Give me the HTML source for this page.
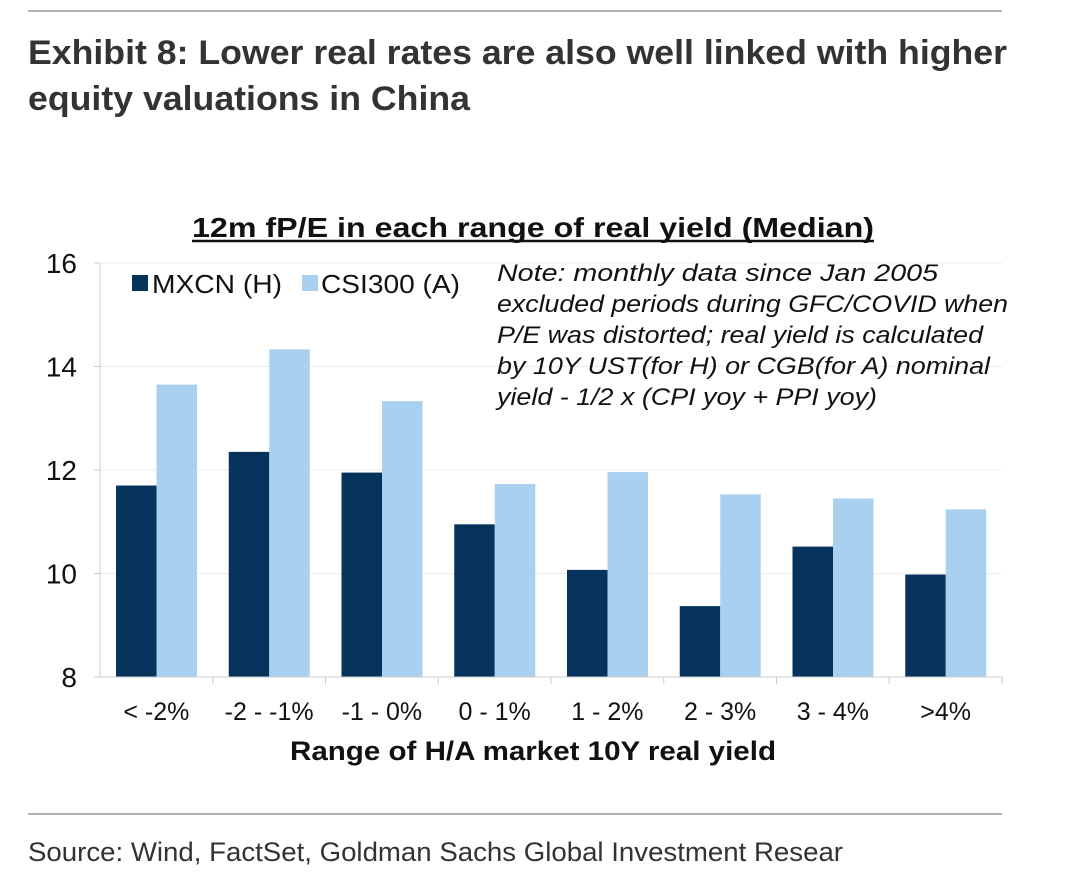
<!DOCTYPE html>
<html><head><meta charset="utf-8"><style>
body{margin:0;background:#fff;width:1080px;height:875px;overflow:hidden;font-family:"Liberation Sans",sans-serif;}
</style></head><body>
<svg width="1080" height="875" xmlns="http://www.w3.org/2000/svg">
<line x1="28" y1="11" x2="1002" y2="11" stroke="#999" stroke-width="1.5"/>
<text x="28" y="64" font-size="34" font-weight="bold" fill="#333" textLength="979" lengthAdjust="spacingAndGlyphs">Exhibit 8: Lower real rates are also well linked with higher</text>
<text x="28" y="110" font-size="34" font-weight="bold" fill="#333" textLength="442" lengthAdjust="spacingAndGlyphs">equity valuations in China</text>
<text x="192" y="237" font-size="28" font-weight="bold" fill="#111" textLength="682" lengthAdjust="spacingAndGlyphs">12m fP/E in each range of real yield (Median)</text>
<line x1="192" y1="241" x2="874" y2="241" stroke="#111" stroke-width="2.5"/>
<g id="grid"></g>
<g id="bars"></g>
<g id="axes"></g>
<g>
<rect x="132" y="275" width="16" height="16" fill="#06335c"/>
<text x="152" y="293" font-size="26" fill="#111" textLength="130" lengthAdjust="spacingAndGlyphs">MXCN (H)</text>
<rect x="302" y="275" width="16" height="16" fill="#a9d0ee"/>
<text x="321" y="293" font-size="26" fill="#111" textLength="139" lengthAdjust="spacingAndGlyphs">CSI300 (A)</text>
</g>
<g font-size="24" font-style="italic" fill="#111">
<text x="497" y="281" textLength="441" lengthAdjust="spacingAndGlyphs">Note: monthly data since Jan 2005</text>
<text x="497" y="312" textLength="511" lengthAdjust="spacingAndGlyphs">excluded periods during GFC/COVID when</text>
<text x="497" y="343" textLength="486" lengthAdjust="spacingAndGlyphs">P/E was distorted; real yield is calculated</text>
<text x="497" y="374" textLength="493" lengthAdjust="spacingAndGlyphs">by 10Y UST(for H) or CGB(for A) nominal</text>
<text x="497" y="405" textLength="380" lengthAdjust="spacingAndGlyphs">yield - 1/2 x (CPI yoy + PPI yoy)</text>
</g>
<text x="290" y="760" font-size="27" font-weight="bold" fill="#111" textLength="486" lengthAdjust="spacingAndGlyphs">Range of H/A market 10Y real yield</text>
<line x1="28" y1="814" x2="1002" y2="814" stroke="#999" stroke-width="1.5"/>
<text x="28" y="861" font-size="27" fill="#333" textLength="815" lengthAdjust="spacingAndGlyphs">Source: Wind, FactSet, Goldman Sachs Global Investment Resear</text>
</svg>
<script>
const categories=["< -2%","-2 - -1%","-1 - 0%","0 - 1%","1 - 2%","2 - 3%","3 - 4%",">4%"];
const mxcn=[11.7,12.35,11.95,10.95,10.07,9.37,10.52,9.98];
const csi300=[13.65,14.33,13.33,11.73,11.96,11.53,11.45,11.24];
const yTicks=[8,10,12,14,16];
const NS="http://www.w3.org/2000/svg";
const X0=100,X1=1002,Y0=677,Y1=263,YMIN=8,YMAX=16;
const y=v=>Y0-(v-YMIN)/(YMAX-YMIN)*(Y0-Y1);
const cw=(X1-X0)/categories.length;
const xc=i=>X0+i*cw;
function mk(tag,attrs,parent){const e=document.createElementNS(NS,tag);for(const k in attrs)e.setAttribute(k,attrs[k]);parent.appendChild(e);return e;}
const grid=document.getElementById('grid'),bars=document.getElementById('bars'),axes=document.getElementById('axes');
yTicks.forEach(t=>{
 if(t>YMIN){const g=mk('line',{x1:X0,x2:X1,y1:y(t),y2:y(t),stroke:'#ececec','stroke-width':1},grid);
 
 }
 const l=mk('text',{x:77,y:y(t)+10,'font-size':28,'text-anchor':'end',fill:'#111'},axes);l.textContent=t;
 
 
 mk('line',{x1:X0-6,x2:X0,y1:y(t),y2:y(t),stroke:'#ccc'},axes);
});
mk('line',{x1:X0,x2:X0,y1:Y1,y2:Y0,stroke:'#ccc'},axes);
mk('line',{x1:X0,x2:X1,y1:Y0,y2:Y0,stroke:'#ccc'},axes);
const bw=40.5;
categories.forEach((c,i)=>{
 const s=xc(i)+16;
 const a=mk('rect',{x:s,y:y(mxcn[i]),width:bw,height:Y0-y(mxcn[i]),fill:'#06335c'},bars);
 
 
 const b=mk('rect',{x:s+bw,y:y(csi300[i]),width:bw,height:Y0-y(csi300[i]),fill:'#a9d0ee'},bars);
 
 
 mk('line',{x1:xc(i+1),x2:xc(i+1),y1:Y0,y2:Y0+7,stroke:'#ccc'},axes);
 const t=mk('text',{x:xc(i)+cw/2,y:720,'font-size':25,'text-anchor':'middle',fill:'#111'},axes);t.textContent=c;
 
 
});
</script>
</body></html>
